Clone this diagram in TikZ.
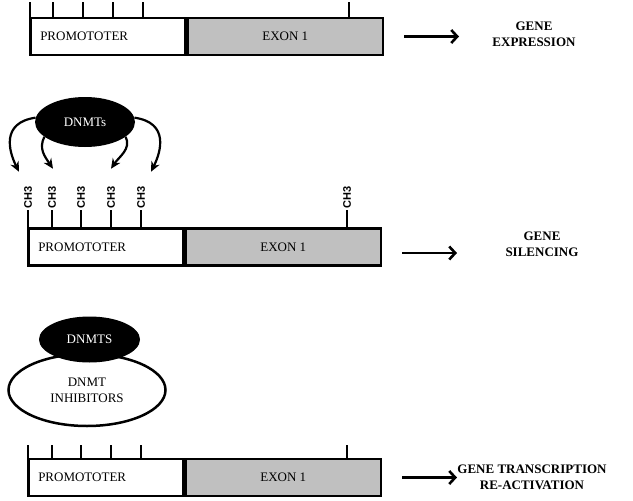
\documentclass[tikz,border=0pt]{standalone}
\usepackage{fontspec}
\setmainfont{Liberation Serif}
\newfontfamily\chfont{Liberation Sans}
\usetikzlibrary{positioning,arrows.meta,calc,shapes.geometric}
\definecolor{exongray}{RGB}{192,192,192}

\begin{document}
\begin{tikzpicture}[x=1pt,y=-1pt,font=\fontsize{13}{16}\selectfont,
  pro/.style={draw=black,line width=2.5pt,fill=white,anchor=west,minimum height=37pt,text width=135pt,inner xsep=10pt,inner ysep=0pt,align=left},
  exn/.style={draw=black,line width=2.5pt,fill=exongray,minimum height=37pt,minimum width=195pt,inner sep=0pt},
  tk/.style={line width=2.5pt},
  ch/.style={font=\chfont\bfseries\fontsize{11}{11}\selectfont,rotate=90,anchor=west,inner sep=0.5pt},
  ar/.style={-{Straight Barb[length=6pt,width=13pt]},line width=2.6pt},
  car/.style={-{Stealth[length=10pt,width=9pt]},line width=2.2pt},
  res/.style={font=\bfseries\fontsize{13}{16}\selectfont,align=center},
  enz/.style={ellipse,fill=black,text=white,minimum width=101pt,minimum height=46pt,inner sep=0pt}]
  \useasboundingbox (0,0) rectangle (633,501);

  % unmethylated gene
  \node[pro] (pro1) at (29,36.5) {PROMOTOTER};
  \node[exn,right=0pt of pro1] (ex1) {EXON 1};
  \foreach \d in {1,24,54,84,114,320}
    \draw[tk] ($(pro1.north west)+(\d,0)$) -- ++(0,-15);
  \draw[ar] ([xshift=20pt]ex1.east) -- +(55,0);
  \node[res] (r1) at (534,34) {GENE\\EXPRESSION};

  % methylation by DNMTs
  \node[enz,minimum width=100pt,minimum height=50pt] (dn) at (85,122) {DNMTs};
  \node[pro] (pro2) at (27,247) {PROMOTOTER};
  \node[exn,right=0pt of pro2] (ex2) {EXON 1};
  \foreach \d [count=\i] in {1,25,54,84,114,320}
    \draw[tk] ($(pro2.north west)+(\d,0)$) -- ++(0,-17) node[ch] (ch\i) {CH3};
  \draw[car] (dn.175) .. controls +(-35,5) and +(-10,-20) .. ([shift={(-9pt,13pt)}]ch1.east);
  \draw[car] (dn.200) .. controls +(-6,12) and +(-8,-12) .. ([shift={(1pt,16pt)}]ch2.east);
  \draw[car] (dn.340) .. controls +(6,12) and +(8,-12) .. ([shift={(0pt,16pt)}]ch4.east);
  \draw[car] (dn.5) .. controls +(35,5) and +(10,-20) .. ([shift={(10pt,13pt)}]ch5.east);
  \draw[ar] ([shift={(20pt,-6pt)}]ex2.east) -- +(55,0);
  \node[res] (r2) at (542,244) {GENE\\SILENCING};

  % inhibition
  \node[ellipse,draw=black,line width=2.5pt,fill=white,minimum width=157pt,minimum height=72pt,align=center] (inh) at (87,390) {DNMT\\INHIBITORS};
  \node[enz] (dn3) at (89.5,339.5) {DNMTS};
  \node[pro] (pro3) at (27,477.5) {PROMOTOTER};
  \node[exn,right=0pt of pro3] (ex3) {EXON 1};
  \foreach \d in {1,25,54,84,114,320}
    \draw[tk] ($(pro3.north west)+(\d,0)$) -- ++(0,-13);
  \draw[ar] ([xshift=20pt]ex3.east) -- +(55,0);
  \node[res] (r3) at (532,477) {GENE TRANSCRIPTION\\RE-ACTIVATION};
\end{tikzpicture}
\end{document}
